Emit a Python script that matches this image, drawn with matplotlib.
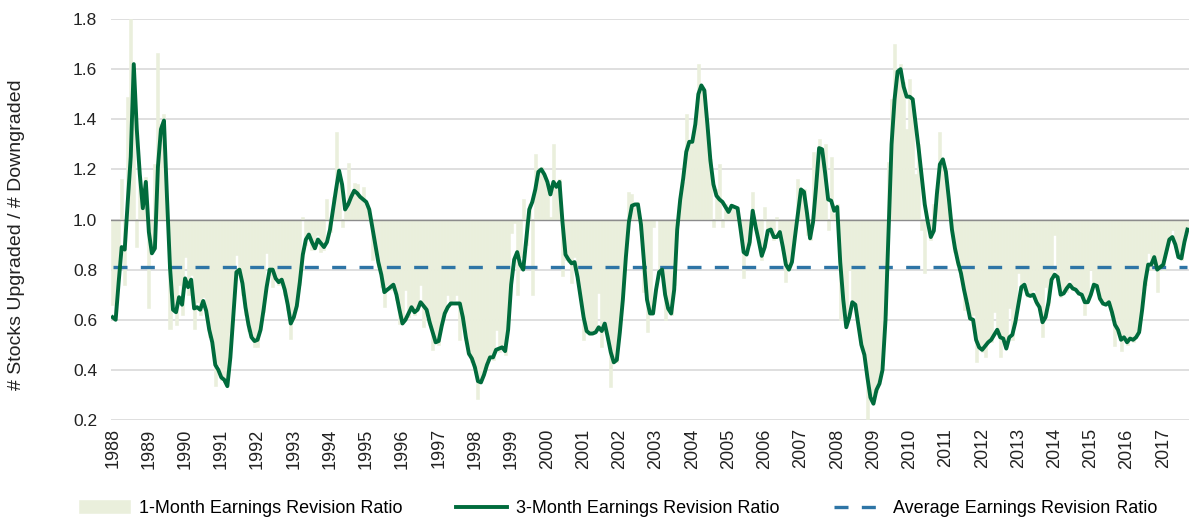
import matplotlib.pyplot as plt
import numpy as np

# monthly values, Jan 1988 .. Sep 2017
three_month = [
    0.61, 0.60, 0.75, 0.89, 0.88, 1.07, 1.25, 1.62, 1.36, 1.18, 1.045, 1.15,
    0.95, 0.865, 0.885, 1.21, 1.36, 1.395, 1.09, 0.81, 0.64, 0.63, 0.69, 0.66,
    0.765, 0.73, 0.76, 0.645, 0.65, 0.64, 0.675, 0.635, 0.56, 0.51, 0.42, 0.40,
    0.37, 0.36, 0.335, 0.45, 0.62, 0.79, 0.80, 0.745, 0.65, 0.58, 0.53, 0.515,
    0.52, 0.56, 0.64, 0.73, 0.80, 0.80, 0.765, 0.75, 0.76, 0.72, 0.66, 0.585,
    0.61, 0.655, 0.75, 0.86, 0.92, 0.94, 0.91, 0.885, 0.92, 0.905, 0.89, 0.91,
    0.96, 1.04, 1.12, 1.195, 1.14, 1.04, 1.06, 1.09, 1.115, 1.105, 1.09, 1.08,
    1.07, 1.04, 0.97, 0.90, 0.83, 0.78, 0.71, 0.72, 0.73, 0.74, 0.70, 0.64,
    0.585, 0.60, 0.625, 0.65, 0.63, 0.64, 0.67, 0.655, 0.64, 0.59, 0.55, 0.51,
    0.515, 0.575, 0.625, 0.65, 0.665, 0.665, 0.665, 0.665, 0.61, 0.53, 0.465, 0.445,
    0.41, 0.355, 0.35, 0.38, 0.42, 0.45, 0.45, 0.48, 0.485, 0.49, 0.475, 0.56,
    0.74, 0.84, 0.87, 0.82, 0.80, 0.92, 1.04, 1.07, 1.12, 1.19, 1.20, 1.18,
    1.15, 1.10, 1.15, 1.13, 1.15, 0.99, 0.86, 0.84, 0.825, 0.83, 0.77, 0.69,
    0.61, 0.555, 0.545, 0.545, 0.55, 0.57, 0.555, 0.585, 0.53, 0.47, 0.43, 0.44,
    0.55, 0.68, 0.85, 0.99, 1.055, 1.06, 1.06, 0.98, 0.83, 0.68, 0.625, 0.625,
    0.72, 0.79, 0.80, 0.70, 0.645, 0.625, 0.72, 0.96, 1.08, 1.165, 1.27, 1.31,
    1.31, 1.38, 1.50, 1.535, 1.515, 1.38, 1.235, 1.14, 1.095, 1.08, 1.07, 1.05,
    1.03, 1.055, 1.05, 1.045, 0.96, 0.87, 0.86, 0.91, 1.035, 0.97, 0.915, 0.855,
    0.89, 0.955, 0.96, 0.93, 0.93, 0.95, 0.89, 0.82, 0.80, 0.83, 0.93, 1.025,
    1.12, 1.11, 1.025, 0.925, 0.99, 1.13, 1.285, 1.28, 1.185, 1.08, 1.075, 1.035,
    1.05, 0.83, 0.68, 0.57, 0.61, 0.67, 0.66, 0.58, 0.50, 0.46, 0.37, 0.29,
    0.265, 0.32, 0.345, 0.40, 0.60, 0.95, 1.30, 1.48, 1.59, 1.60, 1.53, 1.49,
    1.49, 1.48, 1.38, 1.28, 1.17, 1.06, 0.99, 0.93, 0.955, 1.10, 1.22, 1.24,
    1.19, 1.08, 0.96, 0.885, 0.83, 0.785, 0.72, 0.665, 0.605, 0.60, 0.52, 0.49,
    0.48, 0.495, 0.51, 0.52, 0.54, 0.56, 0.53, 0.525, 0.485, 0.53, 0.54, 0.59,
    0.66, 0.73, 0.74, 0.70, 0.695, 0.70, 0.67, 0.65, 0.59, 0.61, 0.67, 0.76,
    0.78, 0.77, 0.70, 0.705, 0.725, 0.74, 0.725, 0.72, 0.705, 0.70, 0.67, 0.67,
    0.70, 0.74, 0.735, 0.685, 0.665, 0.66, 0.67, 0.63, 0.58, 0.56, 0.52, 0.53,
    0.51, 0.525, 0.52, 0.53, 0.55, 0.64, 0.75, 0.82, 0.82, 0.85, 0.80, 0.81,
    0.82, 0.87, 0.92, 0.93, 0.90, 0.85, 0.845, 0.91, 0.96,
]

one_month = [
    0.66, 0.62, 0.78, 1.16, 0.74, 1.49, 1.80, 1.56, 0.89, 1.17, 1.05, 1.17,
    0.645, 0.88, 1.22, 1.665, 1.38, 1.42, 1.05, 0.565, 0.66, 0.58, 0.74, 0.62,
    0.85, 0.70, 0.78, 0.565, 0.67, 0.62, 0.69, 0.60, 0.53, 0.49, 0.335, 0.42,
    0.36, 0.35, 0.36, 0.55, 0.70, 0.86, 0.78, 0.70, 0.62, 0.555, 0.55, 0.49,
    0.49, 0.58, 0.63, 0.865, 0.78, 0.73, 0.78, 0.74, 0.75, 0.70, 0.64, 0.525,
    0.60, 0.68, 0.74, 1.01, 0.90, 0.95, 0.88, 0.90, 0.94, 0.87, 0.88, 1.08,
    0.95, 1.09, 1.35, 1.16, 0.97, 1.06, 1.225, 1.10, 1.145, 1.14, 1.08, 1.13,
    1.05, 1.02, 0.84, 0.88, 0.81, 0.73, 0.65, 0.74, 0.72, 0.75, 0.68, 0.585,
    0.60, 0.72, 0.61, 0.66, 0.62, 0.66, 0.74, 0.57, 0.65, 0.58, 0.48, 0.52,
    0.50, 0.60, 0.63, 0.70, 0.66, 0.68, 0.70, 0.52, 0.60, 0.52, 0.46, 0.43,
    0.40, 0.285, 0.36, 0.40, 0.44, 0.46, 0.44, 0.56, 0.47, 0.50, 0.46, 0.60,
    0.945, 0.985, 0.70, 0.85, 1.08, 0.90, 1.06, 0.70, 1.26, 1.18, 1.21, 1.17,
    1.14, 1.01, 1.30, 1.12, 1.16, 0.775, 0.84, 0.83, 0.745, 0.85, 0.76, 0.68,
    0.52, 0.56, 0.54, 0.55, 0.56, 0.705, 0.49, 0.60, 0.52, 0.33, 0.45, 0.43,
    0.56, 0.70, 0.88, 1.11, 1.10, 1.05, 1.07, 0.96, 0.71, 0.55, 0.64, 0.97,
    1.00, 0.78, 0.81, 0.60, 0.66, 0.62, 0.74, 0.98, 1.10, 1.15, 1.42, 1.30,
    1.33, 1.37, 1.62, 1.52, 1.50, 1.36, 1.24, 0.97, 1.12, 1.22, 0.97, 1.06,
    1.02, 1.06, 1.04, 1.05, 0.95, 0.765, 0.87, 0.90, 1.11, 0.96, 0.92, 0.84,
    1.05, 0.94, 0.97, 0.92, 1.01, 0.94, 0.88, 0.75, 0.82, 0.84, 0.95, 1.16,
    1.10, 1.12, 0.94, 0.92, 1.27, 1.14, 1.32, 1.27, 1.30, 0.96, 1.25, 1.02,
    1.06, 0.60, 0.66, 0.58, 0.80, 0.68, 0.65, 0.60, 0.49, 0.46, 0.205, 0.30,
    0.28, 0.31, 0.36, 0.42, 0.62, 1.23, 1.48, 1.70, 1.58, 1.62, 1.55, 1.36,
    1.56, 1.47, 1.18, 1.30, 0.96, 0.785, 1.00, 0.92, 1.06, 1.12, 1.35, 1.22,
    1.20, 1.05, 0.97, 0.87, 0.82, 0.77, 0.64, 0.68, 0.60, 0.62, 0.43, 0.50,
    0.47, 0.45, 0.52, 0.51, 0.63, 0.55, 0.45, 0.53, 0.49, 0.645, 0.52, 0.60,
    0.785, 0.72, 0.75, 0.69, 0.70, 0.72, 0.66, 0.64, 0.53, 0.73, 0.66, 0.78,
    0.94, 0.76, 0.69, 0.72, 0.71, 0.76, 0.72, 0.73, 0.70, 0.71, 0.62, 0.68,
    0.80, 0.73, 0.74, 0.68, 0.66, 0.67, 0.66, 0.62, 0.495, 0.57, 0.475, 0.54,
    0.50, 0.53, 0.51, 0.54, 0.56, 0.72, 0.74, 0.865, 0.80, 0.84, 0.71, 0.82,
    0.80, 0.88, 0.93, 0.96, 0.89, 0.86, 0.84, 0.945, 0.97,
]

average_ratio = 0.81
years = list(range(1988, 2018))

x = 1988 + np.arange(len(three_month)) / 12.0
avg_line = [average_ratio] * len(three_month)

plt.rcParams['font.family'] = ['Liberation Sans', 'DejaVu Sans']

fig = plt.figure(figsize=(11.89, 5.27), dpi=100)
ax = fig.add_axes([111 / 1189, 107 / 527, 1078 / 1189, 401 / 527])

bars = ax.bar(x, np.array(one_month) - 1.0, bottom=1.0, width=1.0 / 12,
              color='#EAEFDC', edgecolor='#EAEFDC', linewidth=0.4, zorder=1,
              label='1-Month Earnings Revision Ratio')
ax.axhline(1.0, color='#8C8C8C', lw=1.0, zorder=2)
line3, = ax.plot(x, three_month, color='#006B3C', lw=2.8, zorder=4,
                 solid_joinstyle='round', label='3-Month Earnings Revision Ratio')
avg, = ax.plot(x, avg_line, color='#2E75A6', lw=2.4, dashes=(4.2, 4.0), zorder=3,
               label='Average Earnings Revision Ratio')

ax.set_ylim(0.2, 1.8)
ax.set_yticks(np.arange(0.2, 1.81, 0.2))
ax.set_yticklabels(['%.1f' % v for v in np.arange(0.2, 1.81, 0.2)], fontsize=12.5, color='#222222')
ax.set_xlim(1987.955, 2017.71)
ax.set_xticks(years)
ax.set_xticklabels([str(y) for y in years], rotation=90, fontsize=13, color='#222222')
ax.tick_params(length=0)
ax.tick_params(axis='y', pad=10)
ax.tick_params(axis='x', pad=6)
ax.grid(axis='y', color='#D9D9D9', lw=1.2, zorder=0)
ax.set_axisbelow(True)
for s in ax.spines.values():
    s.set_visible(False)

fig.text(17 / 1189, 1 - 235 / 527, '# Stocks Upgraded / # Downgraded',
         rotation=90, ha='center', va='center', fontsize=14, color='#222222')

fig.legend([bars, line3, avg],
           ['1-Month Earnings Revision Ratio', '3-Month Earnings Revision Ratio',
            'Average Earnings Revision Ratio'],
           loc='lower center', bbox_to_anchor=(0.52, -0.012), ncol=3, frameon=False,
           fontsize=13, handlelength=2.8, columnspacing=3.0, handletextpad=0.5)

fig.savefig('out.png', dpi=100)
